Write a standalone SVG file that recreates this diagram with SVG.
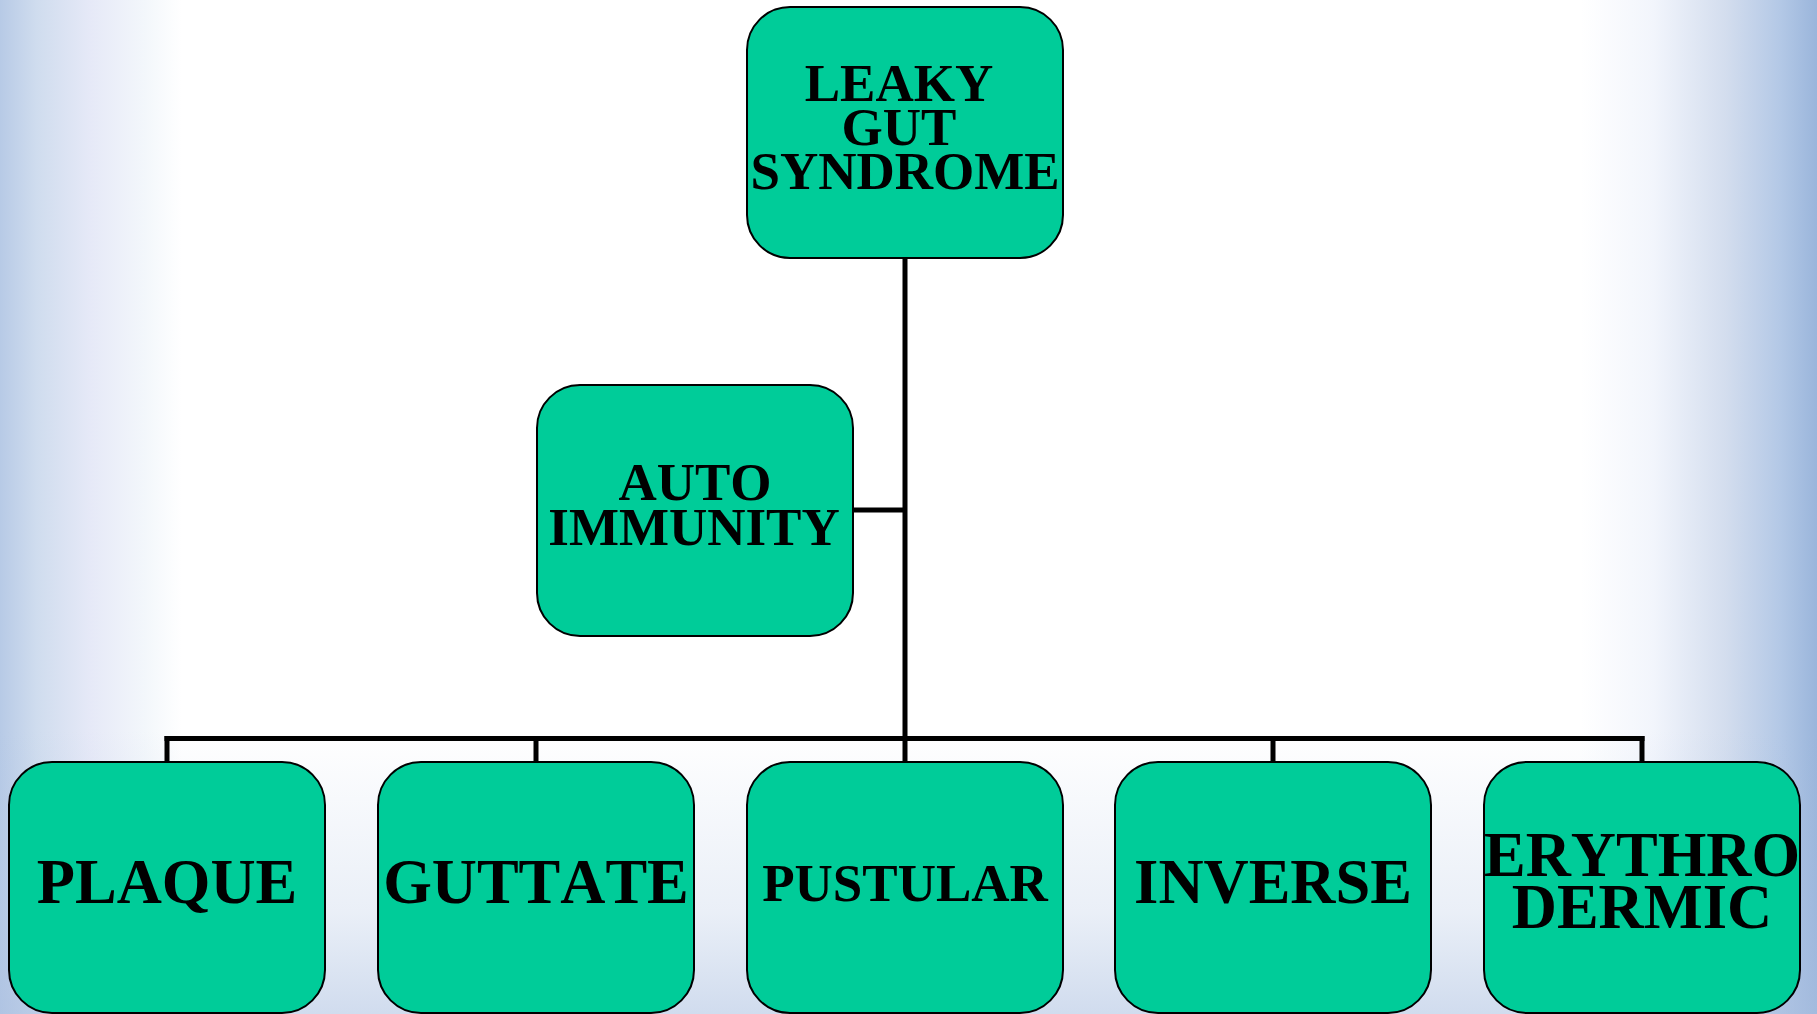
<svg xmlns="http://www.w3.org/2000/svg" width="1817" height="1014" viewBox="0 0 1817 1014">
<defs>
<linearGradient id="bgH" x1="0" y1="0" x2="1817" y2="0" gradientUnits="userSpaceOnUse">
<stop offset="0" stop-color="#b7cae6"/>
<stop offset="0.02" stop-color="#cfdcee"/>
<stop offset="0.05" stop-color="#e6e9f7"/>
<stop offset="0.08" stop-color="#f3f7fb"/>
<stop offset="0.10" stop-color="#ffffff"/>
<stop offset="0.87" stop-color="#ffffff"/>
<stop offset="0.91" stop-color="#f2f5fc"/>
<stop offset="0.95" stop-color="#d3ddee"/>
<stop offset="0.98" stop-color="#b3c8e6"/>
<stop offset="1" stop-color="#9ab5db"/>
</linearGradient>
<linearGradient id="bgV" x1="0" y1="0" x2="0" y2="1014" gradientUnits="userSpaceOnUse">
<stop offset="0" stop-color="#aabfe0" stop-opacity="0"/>
<stop offset="0.72" stop-color="#aabfe0" stop-opacity="0"/>
<stop offset="0.9" stop-color="#aabfe0" stop-opacity="0.25"/>
<stop offset="1" stop-color="#aabfe0" stop-opacity="0.55"/>
</linearGradient>
</defs>
<style>
.box{fill:#00cc99;stroke:#000;stroke-width:2}
.lbl{font-family:"Liberation Serif","Times New Roman",serif;font-weight:bold;fill:#000;text-anchor:middle;font-kerning:none}
.s53{font-size:53px}
.s62{font-size:62.5px}
.conn{stroke:#000;stroke-width:5;fill:none}
</style>
<rect x="0" y="0" width="1817" height="1014" fill="url(#bgH)"/>
<rect x="0" y="0" width="1817" height="1014" fill="url(#bgV)"/>
<g id="connectors">
<line class="conn" x1="905" y1="258" x2="905" y2="741"/>
<line class="conn" x1="853" y1="510" x2="905" y2="510"/>
<line class="conn" x1="164.5" y1="738.5" x2="1644.5" y2="738.5"/>
<line class="conn" x1="167" y1="736" x2="167" y2="762"/>
<line class="conn" x1="536" y1="736" x2="536" y2="762"/>
<line class="conn" x1="905" y1="736" x2="905" y2="762"/>
<line class="conn" x1="1273" y1="736" x2="1273" y2="762"/>
<line class="conn" x1="1642" y1="736" x2="1642" y2="762"/>
</g>
<g id="leaky-gut">
<rect class="box" x="747" y="7" width="316" height="251" rx="43" ry="43"/>
<text class="lbl s53" x="899" y="101">LEAKY</text>
<text class="lbl s53" x="899" y="145">GUT</text>
<text class="lbl s53" x="905" y="189">SYNDROME</text>
</g>
<g id="auto-immunity">
<rect class="box" x="537" y="385" width="316" height="251" rx="43" ry="43"/>
<text class="lbl s53" x="695" y="500">AUTO</text>
<text class="lbl s53" x="694" y="545">IMMUNITY</text>
</g>
<g id="plaque">
<rect class="box" x="9" y="762" width="316" height="251" rx="43" ry="43"/>
<text class="lbl s62" x="167" y="903">PLAQUE</text>
</g>
<g id="guttate">
<rect class="box" x="378" y="762" width="316" height="251" rx="43" ry="43"/>
<text class="lbl s62" x="536" y="903">GUTTATE</text>
</g>
<g id="pustular">
<rect class="box" x="747" y="762" width="316" height="251" rx="43" ry="43"/>
<text class="lbl s53" x="905" y="901">PUSTULAR</text>
</g>
<g id="inverse">
<rect class="box" x="1115" y="762" width="316" height="251" rx="43" ry="43"/>
<text class="lbl s62" x="1273" y="903">INVERSE</text>
</g>
<g id="erythrodermic">
<rect class="box" x="1484" y="762" width="316" height="251" rx="43" ry="43"/>
<text class="lbl s62" x="1642" y="876">ERYTHRO</text>
<text class="lbl s62" x="1642" y="928">DERMIC</text>
</g>
</svg>
